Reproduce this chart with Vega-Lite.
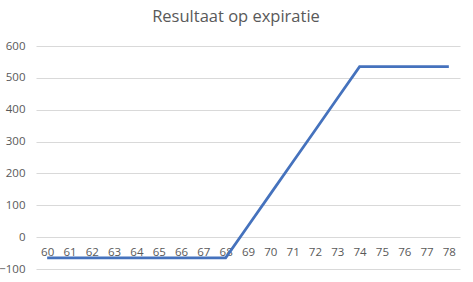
{
  "$schema": "https://vega.github.io/schema/vega-lite/v6.json",
  "width": 424,
  "height": 223,
  "autosize": "none",
  "padding": {"left": 36, "top": 46, "right": 13, "bottom": 13},
  "background": "white",
  "title": {
    "text": "Resultaat op expiratie",
    "font": "Open Sans",
    "fontSize": 16.5,
    "fontWeight": "normal",
    "color": "#595959",
    "anchor": "middle",
    "offset": 15,
    "dx": -12
  },
  "config": {"view": {"stroke": null}},
  "data": {
    "values": [
      {"k": "60", "v": -65}, {"k": "61", "v": -65}, {"k": "62", "v": -65},
      {"k": "63", "v": -65}, {"k": "64", "v": -65}, {"k": "65", "v": -65},
      {"k": "66", "v": -65}, {"k": "67", "v": -65}, {"k": "68", "v": -65},
      {"k": "69", "v": 35}, {"k": "70", "v": 135}, {"k": "71", "v": 235},
      {"k": "72", "v": 335}, {"k": "73", "v": 435}, {"k": "74", "v": 535},
      {"k": "75", "v": 535}, {"k": "76", "v": 535}, {"k": "77", "v": 535},
      {"k": "78", "v": 535}
    ]
  },
  "mark": {"type": "line", "color": "#4572BD", "strokeWidth": 2.75},
  "encoding": {
    "x": {
      "field": "k", "type": "ordinal", "sort": null,
      "scale": {"type": "point", "padding": 0.5},
      "axis": {
        "title": null, "domain": false, "ticks": false, "grid": false,
        "labelAngle": 0, "offset": -31, "labelPadding": 8,
        "labelFont": "Open Sans", "labelFontSize": 11.5, "labelColor": "#595959"
      }
    },
    "y": {
      "field": "v", "type": "quantitative",
      "scale": {"domain": [-100, 600], "nice": false, "zero": false},
      "axis": {
        "title": null, "domain": false, "ticks": false,
        "values": [-100, 0, 100, 200, 300, 400, 500, 600],
        "gridColor": "#d9d9d9", "gridWidth": 1,
        "labelPadding": 11,
        "labelFont": "Open Sans", "labelFontSize": 11.5, "labelColor": "#595959"
      }
    }
  }
}
